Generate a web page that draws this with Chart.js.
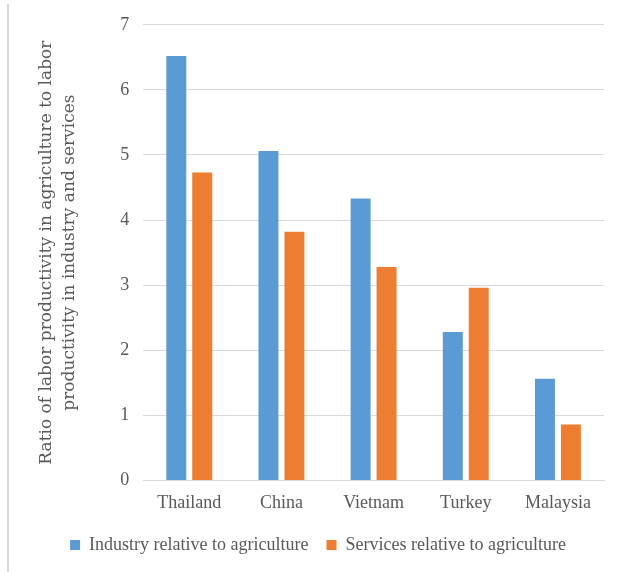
<!DOCTYPE html>
<html>
<head>
<meta charset="utf-8">
<script src="https://cdn.jsdelivr.net/npm/chart.js@4.4.1/dist/chart.umd.min.js"></script>
<style>
  body { margin: 0; background: #fff; }
  #wrap { position: relative; width: 621px; height: 572px; }
  #frame { position: absolute; left: 7px; top: 4px; bottom: 0; width: 0; border-left: 2px solid #d9d9d9; }
  #box { position: absolute; left: 10px; top: 0; width: 611px; height: 572px; }
</style>
</head>
<body>
<div id="wrap">
  <div id="frame"></div>
  <div id="box"><canvas id="chart"></canvas></div>
</div>
<script>
// ----------------------------------------------------------------------
const countries = ["Thailand", "China", "Vietnam", "Turkey", "Malaysia"];
const industry = [6.52, 5.06, 4.33, 2.28, 1.56];
const services = [4.73, 3.82, 3.28, 2.96, 0.86];
const yTicks = [0, 1, 2, 3, 4, 5, 6, 7];
const yTitle = ["Ratio of labor productivity in agriculture to labor", "productivity in industry and services"];

const font = "'Liberation Serif', 'DejaVu Serif', serif";
const titleFont = "'DejaVu Serif', 'Liberation Serif', serif";
const grey = '#595959';

const config = {
    type: 'bar',
    data: {
        labels: countries,
        datasets: [
            {
            label: "Industry relative to agriculture",
            data: industry,
            backgroundColor: '#5b9bd5'
            },
            {
            label: "Services relative to agriculture",
            data: services,
            backgroundColor: '#ed7d31'
            }
        ]
    },
    options: {
        responsive: false,
        animation: false,
        layout: { padding: { left: 22, right: 17, top: 14, bottom: 8 } },
        datasets: { bar: { categoryPercentage: 0.563, barPercentage: 0.77 } },
        plugins: {
            tooltip: { enabled: false },
            legend: {
                position: 'bottom',
                labels: {
                    color: grey,
                    font: { family: font, size: 18 },
                    boxWidth: 10, boxHeight: 10,
                    padding: 18
                }
            }
        },
        scales: {
            x: {
                grid: { display: false },
                border: { color: '#d9d9d9' },
                ticks: { color: grey, font: { family: font, size: 18 }, padding: 4 }
            },
            y: {
                min: 0, max: 7,
                afterBuildTicks: axis => { axis.ticks = yTicks.map(v => ({ value: v })) },
                grid: { color: '#d9d9d9', drawTicks: false },
                border: { display: false },
                ticks: { color: grey, font: { family: font, size: 18 }, padding: 14 },
                title: {
                    display: true,
                    text: yTitle,
                    color: grey,
                    font: { family: titleFont, size: 17, lineHeight: 1.3 },
                    padding: { bottom: 26 }
                }
            }
        }
    }
};

const canvas = document.getElementById('chart');
canvas.width = 611;
canvas.height = 572;
const chart = new Chart(canvas, config);
</script>
</body>
</html>
